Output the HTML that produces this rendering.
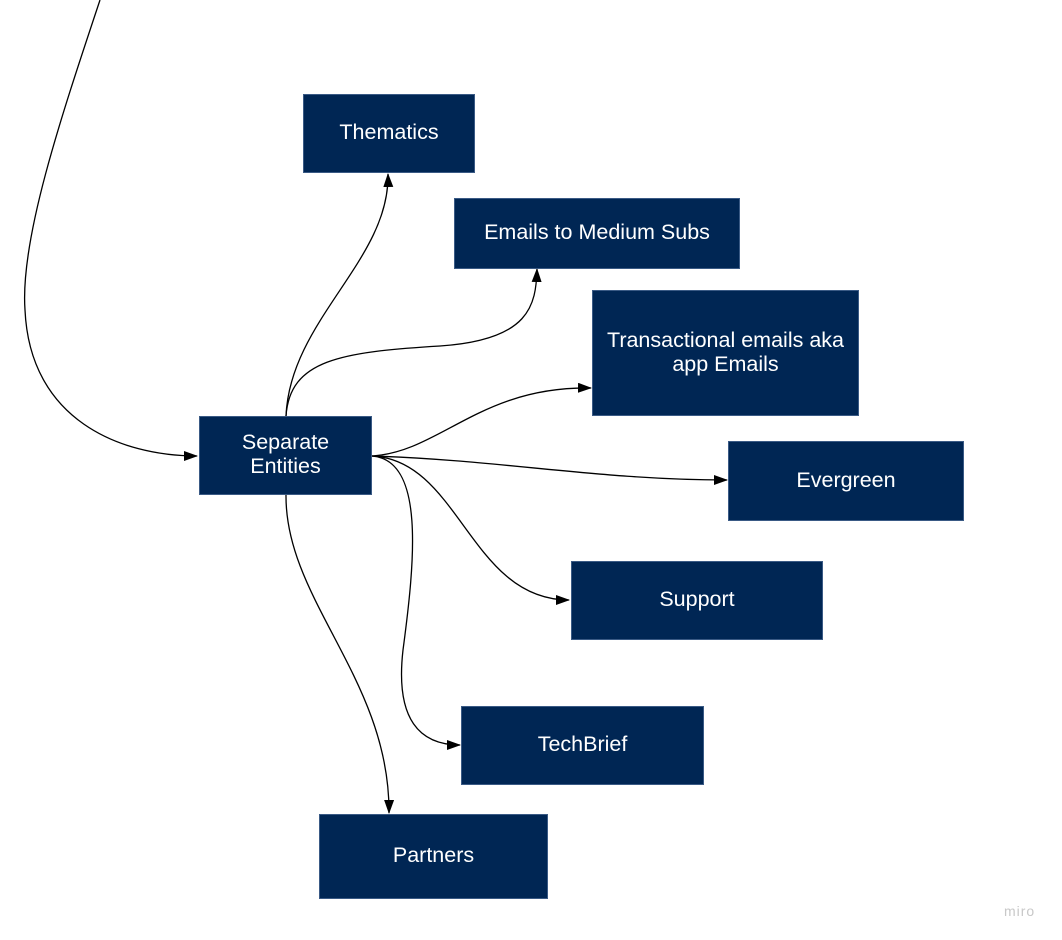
<!DOCTYPE html>
<html><head><style>
body{margin:0;width:1062px;height:940px;background:#fff;position:relative;overflow:hidden;font-family:"Liberation Sans",Arial,sans-serif}
.b{position:absolute;background:#002654;color:#fff;font-size:21.5px;display:flex;align-items:center;justify-content:center;text-align:center;line-height:24px;box-sizing:border-box;border:1px solid #3a5a85;padding-bottom:3px}
svg{position:absolute;left:0;top:0}
</style></head><body>
<svg width="1062" height="940">
<defs><marker id="a" markerWidth="14" markerHeight="10" refX="13" refY="5" orient="auto" markerUnits="userSpaceOnUse"><path d="M0,0 L14,5 L0,10 Z" fill="#000"/></marker></defs>
<g fill="none" stroke="#000" stroke-width="1.3" marker-end="url(#a)">
<path d="M100,0 C60,120 20,240 25,310 C30,420 120,456 197,456"/>
<path d="M286,416 C290,320 390,260 388,174"/>
<path d="M286,416 C290,360 340,352 440,346 C530,340 536,305 537,269"/>
<path d="M372,456 C440,452 480,386 591,388"/>
<path d="M372,456 C500,460 600,480 727,480"/>
<path d="M372,456 C460,460 470,600 569,600"/>
<path d="M372,456 C425,460 415,560 403,650 C395,720 420,745 460,745"/>
<path d="M286,495 C285,600 390,680 389,813"/>
</g>
<text x="1004" y="916" font-size="14" fill="#c8c8c8" font-family="Liberation Sans,sans-serif" letter-spacing="1">miro</text>
</svg>
<div class="b" style="left:303px;top:94px;width:172px;height:79px">Thematics</div>
<div class="b" style="left:454px;top:198px;width:286px;height:71px">Emails to Medium Subs</div>
<div class="b" style="left:592px;top:290px;width:267px;height:126px">Transactional emails aka<br>app Emails</div>
<div class="b" style="left:728px;top:441px;width:236px;height:80px">Evergreen</div>
<div class="b" style="left:571px;top:561px;width:252px;height:79px">Support</div>
<div class="b" style="left:461px;top:706px;width:243px;height:79px">TechBrief</div>
<div class="b" style="left:319px;top:814px;width:229px;height:85px">Partners</div>
<div class="b" style="left:199px;top:416px;width:173px;height:79px">Separate<br>Entities</div>
</body></html>
